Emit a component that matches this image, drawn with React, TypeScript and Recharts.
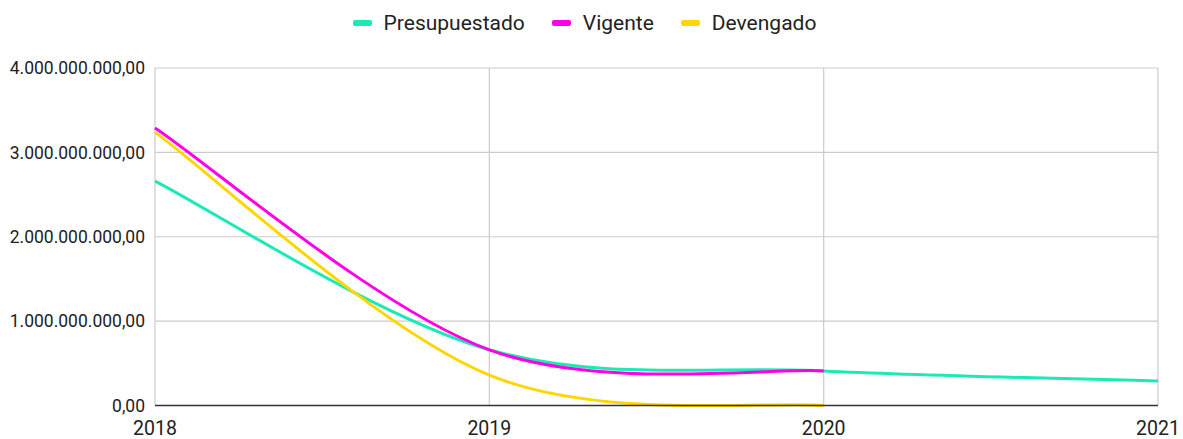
import { LineChart, Line, XAxis, YAxis, CartesianGrid, Legend } from "recharts";

const years = ["2018", "2019", "2020", "2021"];
const presupuestado = [2660000000, 660000000, 410000000, 290000000];
const vigente = [3290000000, 660000000, 410000000, null];
const devengado = [3240000000, 360000000, 0, null];
const yTicks = [0, 1000000000, 2000000000, 3000000000, 4000000000];

const series = [
  { key: "presupuestado", name: "Presupuestado", color: "#1de9b6" },
  { key: "vigente", name: "Vigente", color: "#ff00e6" },
  { key: "devengado", name: "Devengado", color: "#ffd600" },
];

const data = years.map((y, i) => ({
  year: y,
  presupuestado: presupuestado[i],
  vigente: vigente[i],
  devengado: devengado[i],
}));

function fmt(v: number) {
  const int = Math.round(v).toString().replace(/\B(?=(\d{3})+(?!\d))/g, ".");
  return int + ",00";
}

// catmull-rom style smoothing (like the sheets "smooth" line), endpoints duplicated
function smoothCurve(context: any) {
  let pts: number[][] = [];
  return {
    areaStart() {},
    areaEnd() {},
    lineStart() {
      pts = [];
    },
    point(x: number, y: number) {
      pts.push([+x, +y]);
    },
    lineEnd() {
      const n = pts.length;
      if (!n) return;
      context.moveTo(pts[0][0], pts[0][1]);
      for (let i = 0; i < n - 1; i++) {
        const p0 = pts[Math.max(i - 1, 0)];
        const p1 = pts[i];
        const p2 = pts[i + 1];
        const p3 = pts[Math.min(i + 2, n - 1)];
        context.bezierCurveTo(
          p1[0] + (p2[0] - p0[0]) / 6,
          p1[1] + (p2[1] - p0[1]) / 6,
          p2[0] - (p3[0] - p1[0]) / 6,
          p2[1] - (p3[1] - p1[1]) / 6,
          p2[0],
          p2[1]
        );
      }
    },
  };
}

function LegendContent() {
  return (
    <div style={{ display: "flex", justifyContent: "center", alignItems: "center", fontSize: 21, color: "#222" }}>
      {series.map((s, i) => (
        <div key={s.key} style={{ display: "flex", alignItems: "center", marginLeft: i ? 27 : 0 }}>
          <span style={{ width: 19, height: 6, borderRadius: 2, background: s.color, marginRight: 12 }} />
          <span>{s.name}</span>
        </div>
      ))}
    </div>
  );
}

export default function App() {
  return (
    <div style={{ position: "absolute", left: 0, top: 0, fontFamily: "Roboto, sans-serif" }}>
      <LineChart width={1183} height={439} data={data} margin={{ top: 68, right: 25, bottom: 0, left: 0 }}>
        <CartesianGrid stroke="#cccccc" strokeWidth={1.2} />
        <XAxis
          dataKey="year"
          tickLine={false}
          axisLine={{ stroke: "#333", strokeWidth: 1.5 }}
          tick={{ fill: "#222", fontSize: 19.5 }}
          tickMargin={10}
          height={33.5}
          interval={0}
        />
        <YAxis
          width={155}
          domain={[0, 4000000000]}
          ticks={yTicks}
          tickFormatter={fmt}
          axisLine={false}
          tickLine={false}
          tickMargin={4}
          tick={{ fill: "#222", fontSize: 17.5 }}
        />
        <Legend
          layout="horizontal"
          verticalAlign="middle"
          align="center"
          content={<LegendContent />}
          wrapperStyle={{ top: 11, left: -7, width: 1183 }}
        />
        {series.map((s) => (
          <Line
            key={s.key}
            dataKey={s.key}
            name={s.name}
            type={smoothCurve as any}
            stroke={s.color}
            strokeWidth={3}
            dot={false}
            activeDot={false}
            isAnimationActive={false}
          />
        ))}
      </LineChart>
    </div>
  );
}
